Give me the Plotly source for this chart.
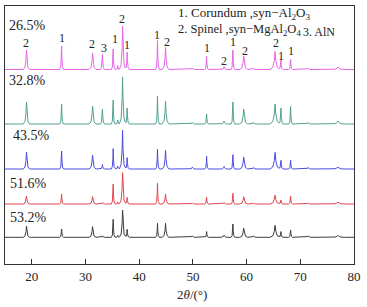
import numpy as np
import plotly.graph_objects as go

# ---- data ----
peak_pos = [19.0, 25.55, 31.3, 33.15, 35.15, 36.0, 36.9, 37.75, 43.4, 44.9, 49.9,
            52.55, 55.8, 57.45, 59.45, 61.3, 65.3, 66.4, 68.2, 71.5, 77.0]
peak_halfwidth = [0.6, 0.35, 0.65, 0.4, 0.35, 0.35, 0.6, 0.4, 0.35, 0.65, 0.5,
                  0.35, 0.6, 0.35, 0.75, 0.5, 0.95, 0.4, 0.35, 0.5, 1.2]

series_names = ["26.5%", "32.8%", "43.5%", "51.6%", "53.2%"]
series_offset = [194.5, 140.0, 95.0, 60.0, 26.7]
heights_265 = [19.5, 23.5, 16.5, 15.5, 20.5, 4, 43.5, 17.5, 29, 22, 1.5, 13, 3, 19.5, 13.5, 1.5, 18, 10, 10, 1.5, 2.5]
heights_328 = [22, 20, 18, 15, 24, 4, 47, 16, 28, 23, 1.5, 10, 3, 22, 15, 1.5, 20, 16, 17.5, 1.5, 3]
heights_435 = [17, 18, 13.7, 4.5, 20.4, 3, 38.7, 11.4, 19.7, 18.7, 2, 12.7, 2.5, 14.3, 12, 1.5, 16.7, 8.7, 8.7, 1.5, 2]
heights_516 = [8, 10, 7.3, 1.5, 20, 2, 31.3, 6.7, 20.7, 10, 1, 6.7, 1.5, 10.7, 7.3, 1, 9, 4, 8, 1, 2]
heights_532 = [11.3, 8.3, 10.7, 1.5, 18, 2, 27.3, 8, 14, 14, 1.5, 5.7, 2, 13.3, 9, 1.5, 12, 5.7, 7.3, 1.5, 2]
series_heights = [heights_265, heights_328, heights_435, heights_516, heights_532]
series_colors = ["#e864e8", "#52a090", "#4b4be0", "#e2454f", "#3c3c3c"]

# phase labels above the top pattern
label_text = ["2", "1", "2", "3", "1", "2", "1", "1", "2", "1", "2", "1", "2", "2", "1", "1"]
label_x = [19.0, 25.6, 31.2, 33.4, 35.4, 36.85, 37.8, 43.35, 45.2, 52.7, 55.7, 57.4, 59.7, 65.45, 66.4, 68.2]
label_y = [221.3, 225.7, 219.7, 216.3, 224.7, 245.0, 219.0, 229.0, 222.3, 215.7, 203.3, 222.3, 213.3, 220.7, 208.0, 213.3]

x_ticks = [20, 30, 40, 50, 60, 70, 80]

# ---- peak profile template (shape only) ----
tmpl_off = np.array([-1, -0.45, -0.15, 0, 0.15, 0.45, 1.0])
tmpl_frac = np.array([0, 0.12, 0.5, 1, 0.5, 0.12, 0])

xs = [15.0, 80.0]
for p, w in zip(peak_pos, peak_halfwidth):
    xs.extend(list(p + tmpl_off * w))
xs = np.unique(np.array(xs))

fig = go.Figure()
for name, off, hts, col in zip(series_names, series_offset, series_heights, series_colors):
    y = np.full_like(xs, off)
    for p, w, h in zip(peak_pos, peak_halfwidth, hts):
        y += np.interp(xs, p + tmpl_off * w, tmpl_frac * h, left=0, right=0)
    fig.add_trace(go.Scatter(x=xs, y=y, mode="lines", name=name,
                             line=dict(color=col, width=1), showlegend=False))

serif = "Liberation Serif, Times New Roman, serif"
anns = []
label_pos_y = [239, 184, 129, 81, 47]
label_pos_x = [7, 7, 11, 8, 8]
for name, lx, ly in zip(series_names, label_pos_x, label_pos_y):
    anns.append(dict(xref="paper", yref="y", x=(lx - 5) / 349, y=ly, text=name,
                     showarrow=False, xanchor="left", yanchor="middle",
                     font=dict(family=serif, size=14, color="#222")))
for t, lx, ly in zip(label_text, label_x, label_y):
    anns.append(dict(x=lx, y=ly, text=t, showarrow=False, xanchor="center", yanchor="middle",
                     font=dict(family=serif, size=12, color="#222")))
anns.append(dict(x=46.9, y=251, text="1. Corundum ,syn−Al<sub>2</sub>O<sub>3</sub>", showarrow=False,
                 xanchor="left", yanchor="middle", font=dict(family=serif, size=13, color="#222")))
anns.append(dict(x=46.9, y=234, text="2. Spinel ,syn−MgAl<sub>2</sub>O<sub>4</sub>", showarrow=False,
                 xanchor="left", yanchor="middle", font=dict(family=serif, size=12.5, color="#222")))
anns.append(dict(x=70.1, y=232, text="3. AlN", showarrow=False,
                 xanchor="left", yanchor="middle", font=dict(family=serif, size=12, color="#222")))
anns.append(dict(xref="paper", yref="paper", x=(191.5 - 5) / 349, y=-0.12, text="2<i>θ</i>/(°)",
                 showarrow=False, xanchor="center", yanchor="middle",
                 font=dict(family=serif, size=13, color="#222")))

fig.update_layout(
    width=367, height=307,
    margin=dict(l=5, r=13, t=6, b=43),
    paper_bgcolor="white", plot_bgcolor="white",
    annotations=anns,
    xaxis=dict(range=[15, 80], tickvals=x_ticks, ticks="inside", ticklen=5,
               tickcolor="#333", showline=True, linecolor="#333", linewidth=1,
               mirror=True, showgrid=False, zeroline=False,
               tickfont=dict(family=serif, size=13, color="#222")),
    yaxis=dict(range=[0, 258], showticklabels=False, ticks="", showline=True,
               linecolor="#333", linewidth=1, mirror=True, showgrid=False, zeroline=False),
)

fig.write_html("out.html", config={"displayModeBar": False},
               post_script="document.body.style.margin='0';document.body.style.padding='0';")
